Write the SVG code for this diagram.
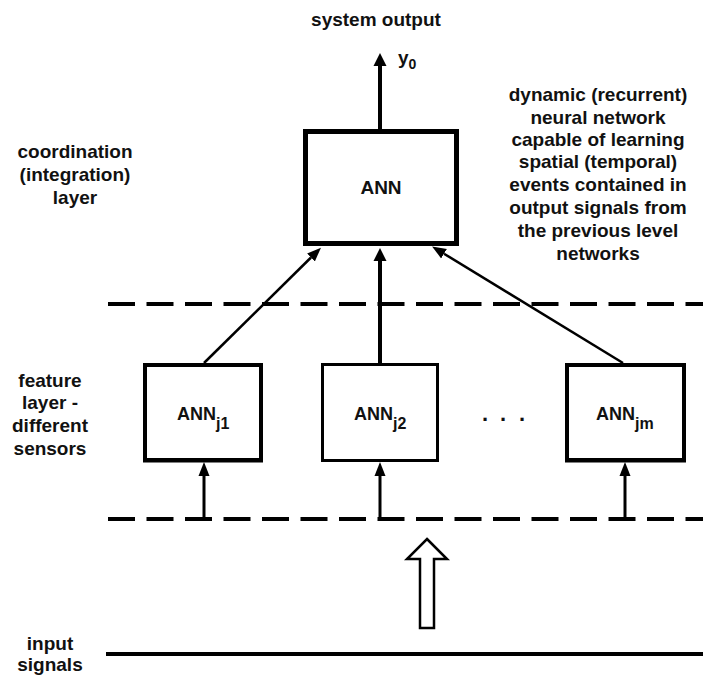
<svg xmlns="http://www.w3.org/2000/svg" width="703" height="675" viewBox="0 0 703 675">
<style>
.t{font-family:"Liberation Sans",Arial,sans-serif;font-weight:bold;font-size:19px;fill:#111;text-anchor:middle}
.box{fill:#fff;stroke:#000}
.dash{stroke:#000;stroke-width:4;stroke-dasharray:27 11.5;fill:none}
.ln{stroke:#000;fill:none}
</style>
<defs>
<marker id="ah" markerUnits="userSpaceOnUse" markerWidth="14" markerHeight="14" refX="0" refY="6.5" orient="auto" viewBox="0 0 14 13">
<path d="M0,0 L13,6.5 L0,13 z" fill="#000"/>
</marker>
<marker id="ahs" markerUnits="userSpaceOnUse" markerWidth="14" markerHeight="12" refX="0" refY="5.5" orient="auto" viewBox="0 0 14 11">
<path d="M0,0 L14,5.5 L0,11 z" fill="#000"/>
</marker>
</defs>
<rect width="703" height="675" fill="#fff"/>

<g id="labels">
<text class="t" x="376" y="26">system output</text>
<text class="t"><tspan x="75" y="158">coordination</tspan><tspan x="75" y="181">(integration)</tspan><tspan x="75" y="204">layer</tspan></text>
<text class="t"><tspan x="598" y="101">dynamic (recurrent)</tspan><tspan x="598" y="124">neural network</tspan><tspan x="598" y="146">capable of learning</tspan><tspan x="598" y="168">spatial (temporal)</tspan><tspan x="598" y="191">events contained in</tspan><tspan x="598" y="214">output signals from</tspan><tspan x="598" y="237">the previous level</tspan><tspan x="598" y="260">networks</tspan></text>
<text class="t"><tspan x="50" y="387">feature</tspan><tspan x="50" y="409">layer -</tspan><tspan x="50" y="432">different</tspan><tspan x="50" y="455">sensors</tspan></text>
<text class="t"><tspan x="50" y="650">input</tspan><tspan x="50" y="671">signals</tspan></text>
<text class="t" style="text-anchor:start" x="398" y="64">y<tspan font-size="14" dy="5">0</tspan></text>
</g>

<g id="layers">
<line class="dash" x1="108" y1="304" x2="703" y2="304"/>
<line class="dash" x1="108" y1="519" x2="703" y2="519"/>
<line class="ln" stroke-width="4" x1="106" y1="654" x2="703" y2="654"/>
</g>

<g id="ann">
<rect class="box" stroke-width="5" x="305.5" y="131.5" width="151" height="112"/>
<text class="t" x="381" y="194">ANN</text>
</g>

<g id="ann_j1">
<rect class="box" stroke-width="4" x="145" y="365" width="116" height="95"/>
<path class="ln" stroke-width="2" d="M143,461.5 H263"/>
<text class="t" style="text-anchor:start;font-size:18px" x="177" y="420">ANN<tspan font-size="16" dy="9">j1</tspan></text>
</g>
<g id="ann_j2">
<rect class="box" stroke-width="3" x="322.5" y="364.5" width="115" height="96"/>
<text class="t" style="text-anchor:start;font-size:18px" x="354" y="420">ANN<tspan font-size="16" dy="9">j2</tspan></text>
</g>
<g id="dots">
<text class="t" style="font-size:22px" x="485 503 522" y="421">...</text>
</g>
<g id="ann_jm">
<rect class="box" stroke-width="4" x="567" y="365" width="117" height="95"/>
<path class="ln" stroke-width="2" d="M565,461.5 H686"/>
<text class="t" style="text-anchor:start;font-size:18px" x="596" y="420">ANN<tspan font-size="16" dy="9">jm</tspan></text>
</g>

<g id="input_arrow">
<polygon points="427,539 447,559 434,559 434,628 420,628 420,559 407,559" fill="#fff" stroke="#000" stroke-width="2.5" stroke-linejoin="miter"/>
</g>

<g id="connectors">
<line class="ln" stroke-width="4" x1="380" y1="129" x2="380" y2="66" marker-end="url(#ah)"/>
<line class="ln" stroke-width="4" x1="380" y1="363" x2="380" y2="261" marker-end="url(#ah)"/>
<line class="ln" stroke-width="2.5" x1="204" y1="363" x2="311" y2="257.5" marker-end="url(#ahs)"/>
<line class="ln" stroke-width="2.5" x1="623" y1="363" x2="444" y2="253.7" marker-end="url(#ahs)"/>
<line class="ln" stroke-width="3" x1="204" y1="517" x2="204" y2="476" marker-end="url(#ahs)"/>
<line class="ln" stroke-width="3" x1="380" y1="517" x2="380" y2="476" marker-end="url(#ahs)"/>
<line class="ln" stroke-width="3" x1="625" y1="517" x2="625" y2="476" marker-end="url(#ahs)"/>
</g>
</svg>
